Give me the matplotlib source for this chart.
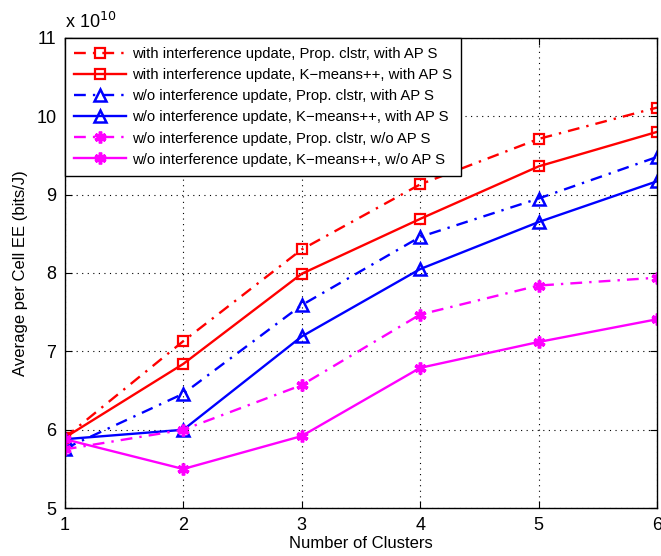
import numpy as np
import matplotlib
matplotlib.use('Agg')
import matplotlib.pyplot as plt

plt.rcParams['font.family'] = ['Liberation Sans', 'DejaVu Sans']

# Number of clusters and per-cell EE (unit: 1e10 bits/J)
clusters = [1, 2, 3, 4, 5, 6]
with_prop_aps = [5.90, 7.13, 8.30, 9.13, 9.71, 10.11]
with_kmeans_aps = [5.90, 6.84, 7.99, 8.69, 9.36, 9.80]
wo_prop_aps = [5.76, 6.46, 7.59, 8.46, 8.95, 9.48]
wo_kmeans_aps = [5.88, 6.00, 7.19, 8.05, 8.65, 9.17]
wo_prop_noaps = [5.75, 6.00, 6.57, 7.47, 7.84, 7.94]
wo_kmeans_noaps = [5.88, 5.50, 5.92, 6.79, 7.12, 7.41]

labels = ['with interference update, Prop. clstr, with AP S',
          'with interference update, K\u2212means++, with AP S',
          'w/o interference update, Prop. clstr, with AP S',
          'w/o interference update, K\u2212means++, with AP S',
          'w/o interference update, Prop. clstr, w/o AP S',
          'w/o interference update, K\u2212means++, w/o AP S']

dashdot = (0, (5, 3, 1, 3))
asterisk = (6, 2, 0)

fig = plt.figure(figsize=(6.61, 5.56), dpi=100)
ax = fig.add_axes([0.098, 0.086, 0.896, 0.846])

ax.plot(clusters, with_prop_aps, color='r', ls=dashdot, lw=1.7, marker='s', ms=7.5,
        mfc='none', mew=1.6, label=labels[0])
ax.plot(clusters, with_kmeans_aps, color='r', ls='-', lw=1.7, marker='s', ms=7.5,
        mfc='none', mew=1.6, label=labels[1])
ax.plot(clusters, wo_prop_aps, color='b', ls=dashdot, lw=1.7, marker='^', ms=9,
        mfc='none', mew=1.8, label=labels[2])
ax.plot(clusters, wo_kmeans_aps, color='b', ls='-', lw=1.7, marker='^', ms=9,
        mfc='none', mew=1.8, label=labels[3])
ax.plot(clusters, wo_prop_noaps, color='magenta', ls=dashdot, lw=1.7, marker=asterisk,
        ms=8.5, mew=2.5, label=labels[4])
ax.plot(clusters, wo_kmeans_noaps, color='magenta', ls='-', lw=1.7, marker=asterisk,
        ms=8.5, mew=2.5, label=labels[5])

ax.set_xlim(1, 6)
ax.set_ylim(5, 11)
ax.set_xticks(clusters)
ax.set_yticks(range(5, 12))
ax.tick_params(direction='in', top=True, right=True, labelsize=13, length=5, pad=6)
ax.grid(True, color='k', ls=(0, (1, 4)), lw=0.8)
for s in ax.spines.values():
    s.set_linewidth(1.0)

ax.set_xlabel('Number of Clusters', fontsize=12, labelpad=2)
ax.set_ylabel('Average per Cell EE (bits/J)', fontsize=12, labelpad=6)
ax.text(0.0, 1.012, 'x 10$^{10}$', transform=ax.transAxes, fontsize=13,
        ha='left', va='bottom')

leg = ax.legend(loc='upper left', fontsize=10.7, frameon=True, fancybox=False,
                edgecolor='k', framealpha=1, handlelength=3.5, borderaxespad=0.0,
                labelspacing=0.48, borderpad=0.62, handletextpad=0.4)
leg.get_frame().set_linewidth(1.0)

fig.savefig('out.png', dpi=100)
